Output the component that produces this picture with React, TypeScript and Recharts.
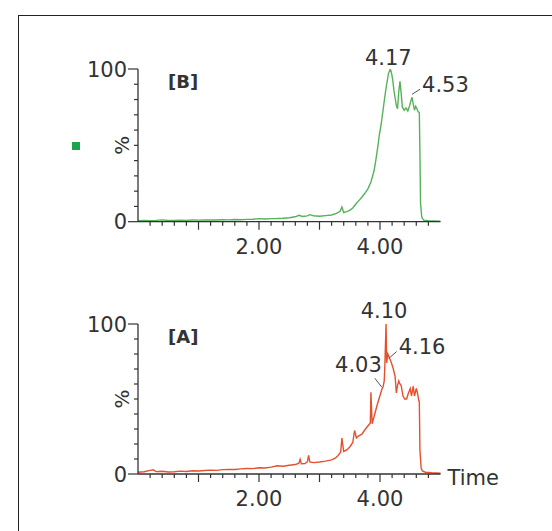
import { LineChart, Line, XAxis, YAxis, ReferenceDot } from "recharts"

// trace [B] (green)
const timeB = [
  0.0, 0.1, 0.2, 0.3, 0.4, 0.5, 0.6, 0.7, 0.8, 0.9, 1.0, 1.1, 1.2, 1.3, 1.4, 1.5, 1.6, 1.7, 1.8, 1.9,
  2.0, 2.1, 2.2, 2.3, 2.4, 2.5, 2.6, 2.66, 2.72, 2.8, 2.84, 2.9, 3.0, 3.1, 3.2, 3.28, 3.34, 3.37, 3.4,
  3.45, 3.5, 3.55, 3.6, 3.65, 3.7, 3.75, 3.8, 3.85, 3.9, 3.93, 3.96, 3.99, 4.02, 4.05, 4.08, 4.11, 4.14,
  4.17, 4.19, 4.21, 4.23, 4.25, 4.27, 4.29, 4.31, 4.33, 4.35, 4.37, 4.4, 4.43, 4.46, 4.49, 4.51, 4.53,
  4.55, 4.57, 4.59, 4.61, 4.63, 4.65, 4.66, 4.67, 4.69, 4.72, 4.8, 4.9, 5.0,
]
const intensityB = [
  0.6, 0.8, 0.7, 0.9, 1.2, 0.8, 0.9, 1.0, 0.9, 1.1, 1.0, 1.1, 1.2, 1.1, 1.3, 1.2, 1.4, 1.3, 1.5, 1.6,
  2.0, 1.8, 2.0, 2.1, 2.3, 2.6, 3.2, 4.2, 3.4, 3.8, 4.6, 3.9, 3.6, 4.0, 4.4, 5.4, 6.8, 9.6, 6.0,
  6.6, 7.4, 9.0, 11.6, 13.8, 16.0, 18.6, 21.5, 26.0, 33.0, 40.0, 48.0, 57.0, 64.0, 73.0, 82.0, 90.0, 97.0,
  100.0, 97.5, 93.0, 86.0, 81.0, 76.0, 74.0, 85.0, 92.0, 84.0, 75.0, 73.0, 74.5, 72.5, 76.0, 79.0, 81.5,
  77.0, 73.0, 75.5, 74.0, 72.0, 71.5, 45.0, 12.0, 3.0, 1.0, 0.6, 0.5, 0.4,
]

// trace [A] (red)
const timeA = [
  0.0, 0.1, 0.2, 0.25, 0.3, 0.4, 0.5, 0.6, 0.7, 0.8, 0.9, 1.0, 1.1, 1.2, 1.3, 1.4, 1.5, 1.6, 1.7, 1.8,
  1.9, 2.0, 2.1, 2.2, 2.3, 2.4, 2.5, 2.6, 2.66, 2.68, 2.7, 2.76, 2.8, 2.82, 2.84, 2.9, 3.0, 3.1, 3.2,
  3.26, 3.3, 3.35, 3.37, 3.4, 3.45, 3.5, 3.55, 3.58, 3.61, 3.65, 3.7, 3.75, 3.8, 3.84, 3.85, 3.87, 3.9,
  3.93, 3.96, 3.99, 4.02, 4.03, 4.05, 4.07, 4.08, 4.1, 4.11, 4.13, 4.16, 4.19, 4.22, 4.25, 4.27, 4.29,
  4.31, 4.33, 4.35, 4.38, 4.41, 4.44, 4.47, 4.5, 4.52, 4.55, 4.57, 4.6, 4.62, 4.64, 4.65, 4.66, 4.68,
  4.7, 4.75, 4.85, 5.0,
]
const intensityA = [
  1.2, 1.5, 2.4, 2.8, 1.6, 1.8, 1.3, 1.5, 1.9, 1.7, 2.2, 2.0, 2.3, 2.6, 2.4, 2.9, 3.1, 3.0, 3.4, 3.7,
  3.6, 4.2, 4.0, 4.6, 5.5, 5.2, 5.8, 6.3, 7.2, 9.8, 6.8, 7.0, 8.2, 12.4, 8.0, 7.6, 8.0, 8.6, 9.4,
  10.5, 12.0, 14.5, 24.0, 15.0, 16.0, 18.0, 21.0, 29.0, 24.0, 25.5, 26.5, 29.5, 32.0, 34.0, 54.5, 33.5, 38.0,
  42.5, 47.0, 51.0, 55.0, 56.5, 58.0, 62.0, 72.0, 100.0, 74.0, 80.0, 77.0, 74.0, 70.0, 65.0, 54.0, 59.0,
  62.0, 60.0, 59.0, 52.0, 50.0, 50.0, 54.0, 57.0, 52.0, 58.5, 52.0, 57.0, 54.0, 49.0, 48.0, 16.0, 4.0,
  2.0, 1.2, 0.8, 0.5,
]

const xTicks = [0.2, 0.4, 0.6, 0.8, 1, 1.2, 1.4, 1.6, 1.8, 2, 2.2, 2.4, 2.6, 2.8, 3, 3.2, 3.4, 3.6, 3.8, 4, 4.2, 4.4, 4.6, 4.8]
const xLabelled = [2, 4]
const yTicks = [0, 10, 20, 30, 40, 50, 60, 70, 80, 90, 100]
const yLabelled = [0, 100]

const peaksB = ["4.17", "4.53"]
const peaksA = ["4.10", "4.03", "4.16"]

const font = "'DejaVu Sans', Verdana, sans-serif"
const ink = "#333"

// pixel placement of each peak label relative to its point
const peakStyle: Record<string, { tx: number; ty: number; anchor: string; lead?: number[] }> = {
  "B4.17": { tx: -2, ty: -4, anchor: "middle" },
  "B4.53": { tx: 10, ty: -5, anchor: "start", lead: [0, -3, 8, -8] },
  "A4.10": { tx: -2, ty: -6, anchor: "middle" },
  "A4.03": { tx: 0, ty: -17, anchor: "end", lead: [0, -2, -7, -11] },
  "A4.16": { tx: 9, ty: -5, anchor: "start", lead: [-1, 0, 7, -7] },
}

const toRows = (t: number[], v: number[]) => t.map((time, i) => ({ time, value: v[i] }))
const dataB = toRows(timeB, intensityB)
const dataA = toRows(timeA, intensityA)

function XTick({ x, y, payload }: any) {
  const v = payload.value
  const major = Math.abs(v - Math.round(v)) < 1e-6
  return (
    <g>
      <line x1={x} x2={x} y1={y} y2={y + (major ? 8 : 4)} stroke={ink} strokeWidth={1.2} />
      {xLabelled.includes(v) && (
        <text x={x} y={y + 32} textAnchor="middle" fontFamily={font} fontSize={21} fill={ink}>
          {v.toFixed(2)}
        </text>
      )}
    </g>
  )
}

function YTick({ x, y, payload }: any) {
  const v = payload.value
  const major = yLabelled.includes(v)
  return (
    <g>
      <line x1={x - (major ? 10 : 4)} x2={x} y1={y} y2={y} stroke={ink} strokeWidth={1.2} />
      {major && (
        <text x={x - 11} y={y} dy="0.36em" textAnchor="end" fontFamily={font} fontSize={21} fill={ink}>
          {v}
        </text>
      )}
      {v === 50 && (
        <text transform={`translate(${x - 16},${y}) rotate(-90)`} dy="0.36em" textAnchor="middle" fontFamily={font} fontSize={20} fill={ink}>
          %
        </text>
      )}
    </g>
  )
}

function peakLabel(key: string, text: string) {
  const s = peakStyle[key]
  return ({ viewBox }: any) => {
    const cx = viewBox.x + viewBox.width / 2
    const cy = viewBox.y + viewBox.height / 2
    return (
      <g>
        {s.lead && (
          <line x1={cx + s.lead[0]} y1={cy + s.lead[1]} x2={cx + s.lead[2]} y2={cy + s.lead[3]} stroke="#555" strokeWidth={1} />
        )}
        <text x={cx + s.tx} y={cy + s.ty} textAnchor={s.anchor as any} fontFamily={font} fontSize={21} fill={ink}>
          {text}
        </text>
      </g>
    )
  }
}

function valueAt(rows: { time: number; value: number }[], t: number) {
  const row = rows.find((r) => Math.abs(r.time - t) < 1e-6)
  return row ? row.value : 0
}

function Trace({ data, color, tag, peaks, height, marginBottom, showTime }: any) {
  return (
    <LineChart
      width={552}
      height={height}
      data={data}
      margin={{ top: 69, right: 111.5, left: 78, bottom: marginBottom }}
    >
      <XAxis
        dataKey="time"
        type="number"
        domain={[0, 5]}
        ticks={xTicks}
        interval={0}
        tickSize={0}
        tickMargin={0}
        tickLine={false}
        height={30}
        axisLine={{ stroke: ink, strokeWidth: 1.3 }}
        tick={<XTick />}
        label={
          showTime
            ? (p: any) => (
                <text x={p.viewBox.x + p.viewBox.width + 7} y={p.viewBox.y + 11} fontFamily={font} fontSize={21} fill={ink}>
                  Time
                </text>
              )
            : undefined
        }
      />
      <YAxis
        type="number"
        domain={[0, 100]}
        ticks={yTicks}
        interval={0}
        width={60}
        tickSize={0}
        tickMargin={0}
        tickLine={false}
        allowDataOverflow
        axisLine={{ stroke: ink, strokeWidth: 1.3 }}
        tick={<YTick />}
      />
      <Line
        type="linear"
        dataKey="value"
        stroke={color}
        strokeWidth={1.4}
        dot={false}
        isAnimationActive={false}
      />
      {peaks.map((p: string) => (
        <ReferenceDot
          key={p}
          x={Number(p)}
          y={valueAt(data, Number(p))}
          r={0}
          fill="none"
          stroke="none"
          label={peakLabel(tag + p, p)}
        />
      ))}
      <ReferenceDot
        x={0}
        y={100}
        r={0}
        fill="none"
        stroke="none"
        label={({ viewBox }: any) => (
          <text x={viewBox.x + 30} y={viewBox.y + 19} fontFamily={font} fontSize={18} fontWeight="bold" fill={ink}>
            [{tag}]
          </text>
        )}
      />
    </LineChart>
  )
}

export default function App() {
  return (
    <div style={{ position: "absolute", left: 0, top: 0, width: 552, height: 531, background: "#fff", overflow: "hidden" }}>
      <div
        style={{
          position: "absolute",
          left: 18,
          top: 15,
          width: 540,
          height: 520,
          borderLeft: "1.5px solid #222",
          borderTop: "1.5px solid #222",
        }}
      />
      <div style={{ position: "absolute", left: 72, top: 142, width: 8, height: 8, background: "#1da34c" }} />
      <div style={{ position: "absolute", left: 0, top: 0 }}>
        <Trace data={dataB} color="#55b25a" tag="B" peaks={peaksB} height={268} marginBottom={16.3} />
      </div>
      <div style={{ position: "absolute", left: 0, top: 255 }}>
        <Trace data={dataA} color="#e5502e" tag="A" peaks={peaksA} height={276} marginBottom={27} showTime />
      </div>
    </div>
  )
}
